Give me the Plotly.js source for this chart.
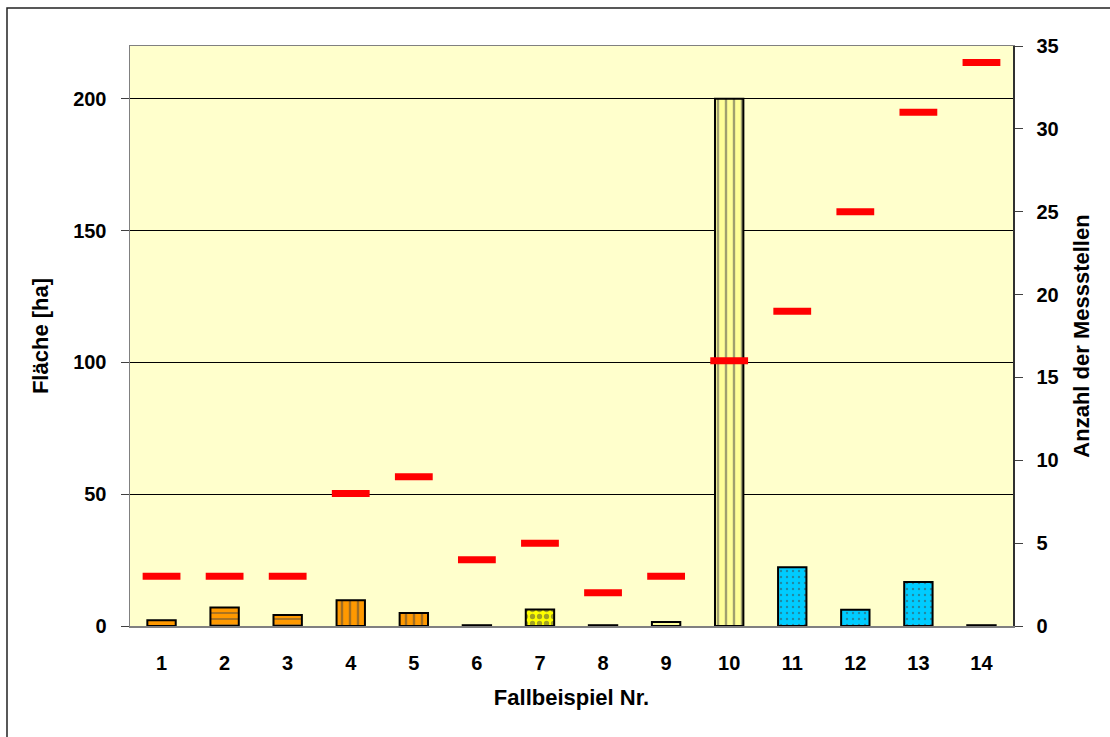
<!DOCTYPE html>
<html>
<head>
<meta charset="utf-8">
<script src="https://cdn.plot.ly/plotly-3.0.1.min.js"></script>
<style>
  html, body { margin: 0; padding: 0; background: #ffffff; }
  #chart { width: 1110px; height: 737px; }
</style>
</head>
<body>
<div id="chart"></div>
<script>
// Fallbeispiele: Fläche (linke Achse) und Anzahl der Messstellen (rechte Achse)
const categories = ['1', '2', '3', '4', '5', '6', '7', '8', '9', '10', '11', '12', '13', '14'];
const flaeche = [2.2, 7, 4.2, 9.8, 4.9, 0.3, 6.3, 0.3, 1.5, 200, 22.3, 6.2, 16.7, 0.3];
const messstellen = [3, 3, 3, 8, 9, 4, 5, 2, 3, 16, 19, 25, 31, 34];

// Füllung je Balken
const barColors = ['#FF9900', '#FF9900', '#FF9900', '#FF9900', '#FF9900', '#000000', '#FFFF00',
                   '#000000', '#FFFF99', '#FFFF99', '#00CCFF', '#00CCFF', '#00CCFF', '#000000'];
const barPatterns = ['', '-', '-', '|', '|', '', '.', '', '', '|', '.', '.', '.', ''];
const patternSizes = [8, 6, 6, 8, 8, 8, 7, 8, 8, 8, 6, 6, 6, 8];
const patternSolidity = [0.3, 0.3, 0.3, 0.3, 0.3, 0.3, 0.45, 0.3, 0.3, 0.3, 0.12, 0.12, 0.12, 0.3];

const FONT = 'Liberation Sans, Arial, sans-serif';

const bars = {
  type: 'bar',
  x: categories,
  y: flaeche,
  width: 0.45,
  marker: {
    color: barColors,
    line: { color: '#000000', width: 2 },
    pattern: {
      fillmode: 'overlay',
      shape: barPatterns,
      fgcolor: '#000000',
      size: patternSizes,
      solidity: patternSolidity
    }
  },
  hoverinfo: 'x+y',
  showlegend: false
};

const dashes = {
  type: 'scatter',
  mode: 'markers',
  x: categories,
  y: messstellen,
  yaxis: 'y2',
  marker: {
    symbol: 'line-ew',
    size: 27,
    color: '#FF0000',
    line: { color: '#FF0000', width: 7 }
  },
  showlegend: false
};

const tickFont = { family: FONT, size: 20, color: '#000000', weight: 'bold' };
const titleFont = { family: FONT, size: 22, color: '#000000', weight: 'bold' };

const layout = {
  width: 1110,
  height: 737,
  margin: { l: 130, r: 97, t: 46, b: 111 },
  paper_bgcolor: '#ffffff',
  plot_bgcolor: '#FFFFCC',
  xaxis: {
    type: 'category',
    range: [-0.5, 13.5],
    showline: true,
    linecolor: '#808080',
    linewidth: 1.5,
    mirror: true,
    ticks: '',
    tickfont: tickFont,
    ticklabelstandoff: 18,
    showgrid: false,
    zeroline: false,
    title: { text: 'Fallbeispiel Nr.', font: titleFont, standoff: 17 }
  },
  yaxis: {
    range: [0, 220],
    dtick: 50,
    tick0: 0,
    showline: true,
    linecolor: '#808080',
    linewidth: 1.5,
    ticks: 'outside',
    ticklen: 8,
    tickcolor: '#404040',
    tickwidth: 1,
    ticklabelstandoff: 10,
    tickfont: tickFont,
    showgrid: true,
    gridcolor: '#000000',
    gridwidth: 1,
    zeroline: false,
    title: { text: 'Fläche [ha]', font: titleFont, standoff: 18 }
  },
  yaxis2: {
    overlaying: 'y',
    side: 'right',
    range: [0, 35],
    dtick: 5,
    tick0: 0,
    showline: true,
    linecolor: '#303030',
    linewidth: 1.5,
    ticks: 'outside',
    ticklen: 8,
    tickcolor: '#404040',
    tickwidth: 1,
    ticklabelstandoff: 10,
    tickfont: tickFont,
    showgrid: false,
    zeroline: false,
    title: { text: 'Anzahl der Messstellen', font: titleFont, standoff: 16 }
  },
  shapes: [
    {
      // Rahmen um das gesamte Diagramm
      type: 'rect',
      xref: 'paper', yref: 'paper',
      x0: -0.1393, x1: 1.2,
      y0: -0.4, y1: 1.0655,
      line: { color: '#222222', width: 1.5 },
      fillcolor: 'rgba(0,0,0,0)',
      layer: 'above'
    }
  ]
};

Plotly.newPlot('chart', [bars, dashes], layout, { displayModeBar: false, staticPlot: true });
</script>
</body>
</html>
